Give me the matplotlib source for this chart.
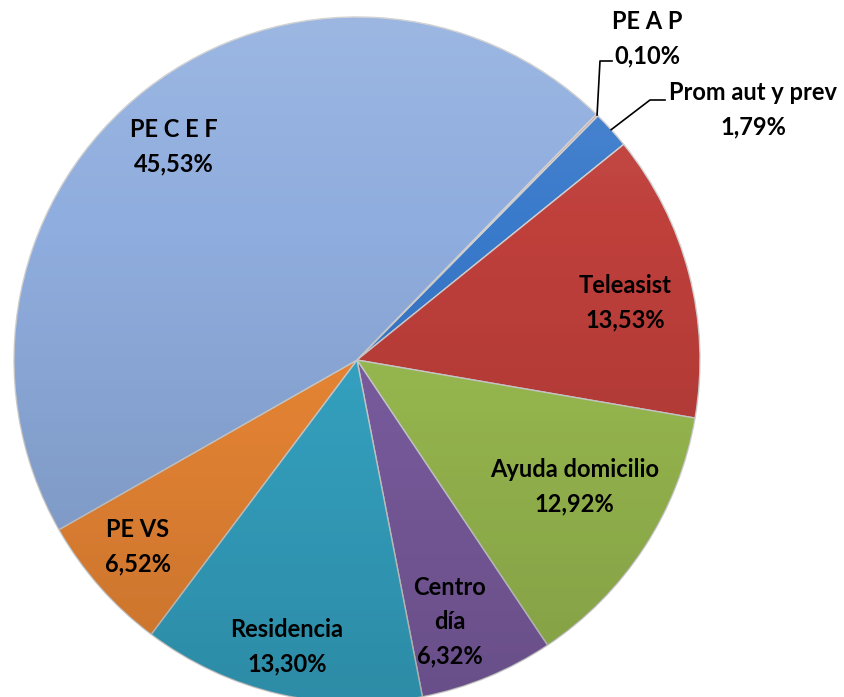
import numpy as np
import matplotlib.pyplot as plt
from matplotlib.patches import Circle

# slices in drawing order (clockwise from the top right)
labels = ['Prom aut y prev', 'Teleasist', 'Ayuda domicilio', 'Centro\ndía',
          'Residencia', 'PE VS', 'PE C E F', 'PE A P']
shares = [1.79, 13.53, 12.92, 6.32, 13.30, 6.52, 45.53, 0.10]
colors = ['#3a7acb', '#bf3f3b', '#9dbf52', '#7e5fa4', '#36a8c8',
          '#f08a36', '#8fadde', '#c99a96']

# where the inside labels sit: radius fraction and angle nudge (deg)
# None = outside label with a leader line
label_r = [None, 0.80, 0.735, 0.81, 0.86, 0.84, 0.82, None]
label_dang = [0, -2.6, 2.7, -2.9, -0.8, -0.9, 3.0, 0]

if __name__ == '__main__':
    plt.close("all")
    W, H = 844, 697
    cx, cy, R = 357, 337, 343

    fig = plt.figure(figsize=(W/100, H/100), dpi=100)
    ax = fig.add_axes([0, 0, 1, 1])

    wedges, _ = ax.pie(shares, colors=colors, startangle=45.4,
                       counterclock=False, center=(cx, cy), radius=R,
                       wedgeprops=dict(edgecolor='#d0d0d0', linewidth=1.0))

    # soft vertical shading like the office gradient
    n = 256
    grad = np.zeros((n, 1, 4))
    t = np.linspace(0, 1, n)
    grad[:, 0, 3] = np.where(t < 0.3, 0.12*(0.3-t)/0.3, 0.17*(t-0.3)/0.7)
    grad[t < 0.3, 0, :3] = 1.0
    im = ax.imshow(grad, extent=(cx-R, cx+R, cy-R, cy+R), aspect='auto',
                   origin='upper', zorder=3, interpolation='bilinear')
    im.set_clip_path(Circle((cx, cy), R, transform=ax.transData))

    font = dict(family=['Lato', 'DejaVu Sans'], weight='bold', fontsize=17,
                linespacing=1.6, ha='center', va='center', zorder=5)

    for w, lab, val, f, da in zip(wedges, labels, shares, label_r, label_dang):
        txt = lab + '\n' + ('%.2f%%' % val).replace('.', ',')
        if f is None:
            continue
        ang = np.deg2rad((w.theta1 + w.theta2) / 2 + da)
        ax.text(cx + f*R*np.cos(ang), cy + f*R*np.sin(ang), txt, **font)

    # outside labels with leader lines
    outside = {'PE A P': ((647, 658), [(600, 636), (612, 636)]),
               'Prom aut y prev': ((753, 587), [(650, 597), (665, 597)])}
    for w, lab, val in zip(wedges, labels, shares):
        if lab not in outside:
            continue
        (tx, ty), knees = outside[lab]
        ang = np.deg2rad((w.theta1 + w.theta2) / 2)
        x0, y0 = cx + R*np.cos(ang), cy + R*np.sin(ang)
        xs = [x0] + [k[0] for k in knees]
        ys = [y0] + [k[1] for k in knees]
        ax.plot(xs, ys, color='black', lw=1.2, zorder=6)
        txt = lab + '\n' + ('%.2f%%' % val).replace('.', ',')
        ax.text(tx, ty, txt, **font)

    ax.set_xlim(0, W)
    ax.set_ylim(0, H)
    ax.axis('off')
    fig.savefig('out.png', dpi=100)
